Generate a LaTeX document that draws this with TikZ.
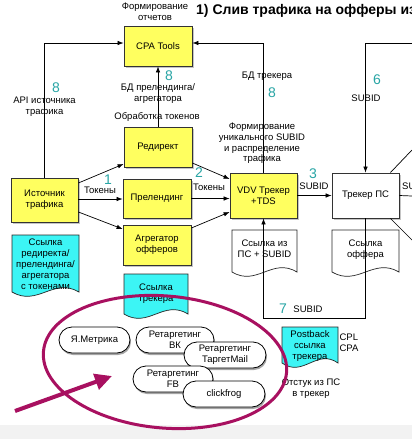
\documentclass[tikz,border=0pt]{standalone}
\usepackage{fontspec}
\setmainfont{Liberation Sans}
\usetikzlibrary{arrows.meta,shadows,calc}
\definecolor{boxyellow}{RGB}{255,255,95}
\definecolor{doccyan}{RGB}{60,245,245}
\definecolor{numteal}{RGB}{40,165,165}
\definecolor{ringmag}{RGB}{168,16,96}
\definecolor{bandgray}{RGB}{242,242,242}
\newcommand{\txt}{\fontsize{9.5}{11}\selectfont}
\newcommand{\mydoc}[5]{%
  \pgfmathsetmacro\dcA{#2+0.62*(#4-#2)}%
  \pgfmathsetmacro\dcB{#2+0.38*(#4-#2)}%
  \pgfmathsetmacro\dyA{#5-15}%
  \pgfmathsetmacro\dyB{#5+15}%
  \draw[#1] (#2,#3) -- (#4,#3) -- (#4,#5) .. controls (\dcA,\dyA) and (\dcB,\dyB) .. (#2,#5) -- cycle;}
\tikzset{
  ybox/.style={draw=black!80, fill=boxyellow, line width=0.8pt, minimum width=68pt,
    minimum height=40pt, align=center, font=\txt, inner sep=1pt,
    drop shadow={shadow xshift=1.5pt, shadow yshift=-1.5pt, opacity=0.45}},
  wbox/.style={ybox, fill=white},
  pill/.style={draw=black, fill=white, line width=0.8pt, rounded corners=13pt,
    minimum width=80pt, minimum height=26pt, align=center, font=\txt, inner sep=1pt,
    drop shadow={shadow xshift=1pt, shadow yshift=-2pt, opacity=0.7}},
  lbl/.style={font=\txt, align=center, inner sep=0pt},
  num/.style={font=\fontsize{14}{14}\selectfont, text=numteal, inner sep=0pt},
  conn/.style={draw=black, line width=0.7pt, -{Latex[length=6pt,width=4.5pt]}},
  plain/.style={draw=black, line width=0.7pt},
  cyandoc/.style={fill=doccyan, draw=black!85, line width=0.7pt},
  whitedoc/.style={fill=white, draw=black!85, line width=0.7pt}
}
\begin{document}
\begin{tikzpicture}[x=1pt,y=-1pt]
\useasboundingbox (0,0) rectangle (412,439);
\clip (0,0) rectangle (412,439);
\fill[white] (0,0) rectangle (412,439);
\fill[bandgray] (0,425) rectangle (412,439);

% documents
\mydoc{cyandoc}{12}{235}{79}{292}
\mydoc{cyandoc}{124}{274}{188}{314}
\mydoc{whitedoc}{232}{230}{297}{272}
\mydoc{whitedoc}{332}{230}{399}{272}
\mydoc{cyandoc}{282}{327}{338}{363}
\node[lbl] (docA) at (45.5,264) {Ссылка\\редиректа/\\прелендинга/\\агрегатора\\с токенами};
\node[lbl] (docB) at (156,294) {Ссылка\\трекера};
\node[lbl] (docC) at (264.5,249) {Ссылка из\\ПС + SUBID};
\node[lbl] (docD) at (365.5,249.5) {Ссылка\\оффера};
\node[lbl] (docE) at (310,346) {Postback\\ссылка\\трекера};

% boxes
\node[ybox] (cpa) at (158,46) {CPA Tools};
\node[ybox] (red) at (158,147) {Редирект};
\node[ybox, minimum height=39pt] (prel) at (157,198.5) {Прелендинг};
\node[ybox] (agg) at (157,245) {Агрегатор\\офферов};
\node[ybox, minimum width=67pt, minimum height=44pt] (src) at (44.5,200) {Источник\\трафика};
\node[ybox, minimum width=67pt, minimum height=45pt] (vdv) at (263.5,195.5) {VDV Трекер\\+TDS};
\node[wbox, minimum width=67pt, minimum height=45pt] (tps) at (365.5,195.5) {Трекер ПС};

% coordinates for free ends
\coordinate (t43) at (0,43);
\coordinate (reA) at (412,43);
\coordinate (reB) at (412,150);
\coordinate (reC) at (412,196);
\coordinate (reD) at (412,240);

% connectors
\draw[conn] (src.north) |- (cpa.west |- t43);
\draw[conn] (vdv.north) |- (cpa.east |- t43);
\draw[conn] (reA) -| (tps.north);
\draw[conn] (red.north) -- (cpa.south);
\draw[conn] ($(src.east)+(0,-17)$) -- ($(red.west)+(0,17)$);
\draw[conn] ($(src.east)+(0,-1)$) -- ($(prel.west)+(0,0.5)$);
\draw[conn] ($(src.east)+(0,12)$) -- ($(agg.west)+(0,-16)$);
\draw[conn] ($(red.east)+(0,16)$) -- ($(vdv.west)+(0,-16.5)$);
\draw[conn] ($(prel.east)+(0,0)$) -- ($(vdv.west)+(0,3)$);
\draw[conn] ($(agg.east)+(0,-17)$) -- ($(vdv.west)+(0,16.5)$);
\draw[conn] (vdv.east) -- (tps.west);
\draw[conn] (tps.south) -- ++(0,100) -| (vdv.south);
\draw[plain] ($(tps.north east)+(-9,0)$) -- (reB);
\draw[plain] (tps.east) -- (reC);
\draw[plain] ($(tps.south east)+(-9,0)$) -- (reD);

% labels
\node[font=\bfseries\fontsize{14}{14}\selectfont, anchor=west, inner sep=0pt] (title) at (196,11) {1) Слив трафика на офферы из};
\node[lbl] (lrep) at (155,12) {Формирование\\отчетов};
\node[num] (n8a) at (56,88) {8};
\node[lbl] (lapi) at (44.5,107) {API источника\\трафика};
\node[num] (n8b) at (169,76) {8};
\node[lbl] (lbd) at (158,93.5) {БД прелендинга/\\агрегатора};
\node[lbl] (ltok) at (157,117) {Обработка токенов};
\node[lbl] (lbdt) at (267,76) {БД трекера};
\node[num] (n8c) at (272,93) {8};
\node[lbl, font=\fontsize{9.5}{10.6}\selectfont] (luniq) at (262,143.5) {Формирование\\уникального SUBID\\и распределение\\трафика};
\node[num] (n6) at (377,80) {6};
\node[lbl] (ls6) at (366,98) {SUBID};
\node[num] (n1) at (108,180) {1};
\node[lbl] (lt1) at (100,190.5) {Токены};
\node[num] (n2) at (199,173) {2};
\node[lbl] (lt2) at (209,187.5) {Токены};
\node[num] (n3) at (313,174) {3};
\node[lbl] (ls3) at (314,186.5) {SUBID};
\node[lbl, anchor=west] (lsr) at (402,186.5) {SUBID};
\node[num] (n7) at (283,309) {7};
\node[lbl] (ls7) at (308,309) {SUBID};
\node[lbl, align=left] (lcpl) at (349,342.5) {CPL\\CPA};
\node[lbl] (lback) at (311,388.5) {Отстук из ПС\\в трекер};

% pills
\node[pill, minimum width=71pt] (ym) at (94.5,340) {Я.Метрика};
\node[pill, minimum width=78pt] (vk) at (175,340) {Ретаргетинг\\ВК};
\node[pill, minimum width=82pt] (tm) at (225,355) {Ретаргетинг\\ТаргетMail};
\node[pill] (fb) at (173,379) {Ретаргетинг\\FB};
\node[pill, minimum width=82pt] (cf) at (224,394) {clickfrog};

% highlight ring and arrow
\draw[ringmag, line width=3pt, rotate around={-5:(165,362)}] (165,362) ellipse [x radius=122, y radius=66];
\coordinate (arS) at (15,411);
\coordinate (arT) at (112,376);
\draw[ringmag, line width=4pt, -{Triangle[length=17pt,width=16pt]}] (arS) -- (arT);
\end{tikzpicture}
\end{document}
